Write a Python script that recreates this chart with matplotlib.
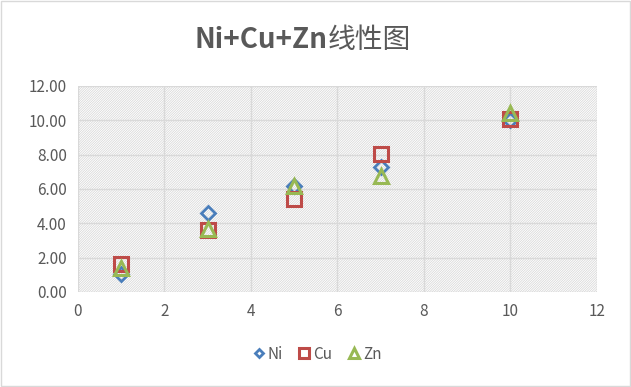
import matplotlib
matplotlib.use('Agg')
import matplotlib.pyplot as plt
from matplotlib.patches import Rectangle

plt.rcParams['font.family'] = ['Noto Sans CJK SC', 'DejaVu Sans']
plt.rcParams['hatch.linewidth'] = 0.5

# 数据
x_vals = [1, 3, 5, 7, 10]
ni = [1.05, 4.6, 6.2, 7.3, 10.0]
cu = [1.63, 3.6, 5.4, 8.05, 10.1]
zn = [1.4, 3.65, 6.15, 6.75, 10.4]
y_ticks = [0, 2, 4, 6, 8, 10, 12]
x_ticks = [0, 2, 4, 6, 8, 10, 12]

fig = plt.figure(figsize=(6.31, 3.87), dpi=100)
fig.patch.set_facecolor('white')
fig.patches.append(Rectangle((0.002, 0.003), 0.996, 0.994, transform=fig.transFigure,
                             fill=False, edgecolor='#d9d9d9', linewidth=1))

ax = fig.add_axes([0.1236, 0.2455, 0.8225, 0.5323])
ax.add_patch(Rectangle((0, 0), 1, 1, transform=ax.transAxes, facecolor='white',
                       edgecolor='#d4d4d4', hatch='/' * 14, linewidth=0, zorder=0))

ax.plot(x_vals, ni, linestyle='none', marker='D', markersize=7, markerfacecolor='none',
        markeredgecolor='#4A7EBB', markeredgewidth=2, label='Ni', zorder=3)
ax.plot(x_vals, cu, linestyle='none', marker='s', markersize=10, markerfacecolor='none',
        markeredgecolor='#BE4B48', markeredgewidth=2.2, label='Cu', zorder=3)
ax.plot(x_vals, zn, linestyle='none', marker='^', markersize=10, markerfacecolor='none',
        markeredgecolor='#98B954', markeredgewidth=2.2, label='Zn', zorder=4)

ax.set_xlim(0, 12)
ax.set_ylim(0, 12)
ax.set_xticks(x_ticks)
ax.set_yticks(y_ticks)
ax.set_yticklabels([f'{v:.2f}' for v in y_ticks])
ax.grid(True, color='#d9d9d9', linewidth=1)
ax.set_axisbelow(True)
for s in ax.spines.values():
    s.set_visible(False)
ax.tick_params(length=0, labelsize=11, colors='#595959', pad=8)

# 标题：拉丁部分粗体，中文部分常规
fig.text(0.519, 0.897, 'Ni+Cu+Zn', ha='right', va='center', fontsize=20,
         fontweight='bold', color='#595959')
fig.text(0.519, 0.897, '线性图', ha='left', va='center', fontsize=20, color='#595959')

fig.legend(loc='center', bbox_to_anchor=(0.5, 0.085), ncol=3, frameon=False, fontsize=11,
           labelcolor='#595959', handletextpad=0.0, columnspacing=0.8, markerscale=0.65,
           handlelength=1.2)

fig.savefig('out.png', dpi=100)
